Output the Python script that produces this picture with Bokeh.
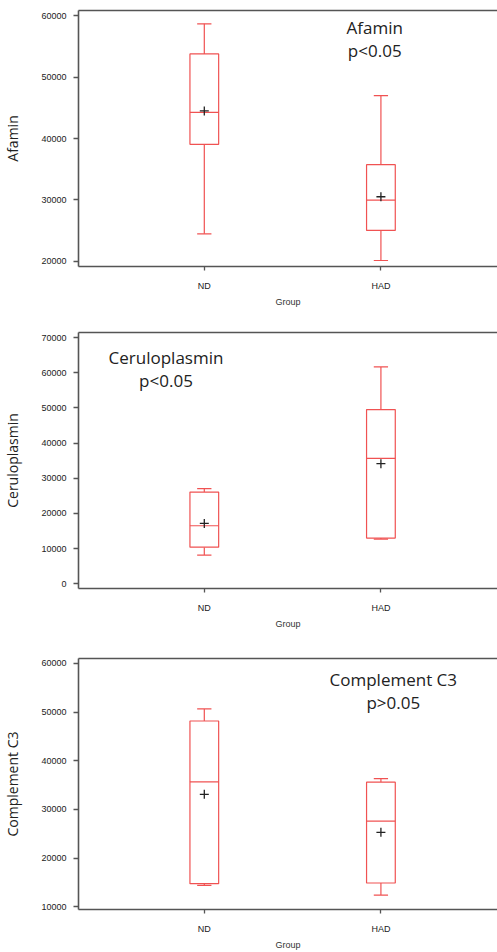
from bokeh.plotting import figure
from bokeh.layouts import column
from bokeh.models import FixedTicker, LinearAxis, Label, ColumnDataSource, Range1d
from bokeh.embed import file_html
from bokeh.resources import INLINE

groups = ["ND", "HAD"]
xpos = [1, 2]

# Afamin
afamin_low = [24500, 20160]
afamin_q1 = [39050, 25050]
afamin_med = [44260, 29990]
afamin_q3 = [53760, 35740]
afamin_high = [58640, 46970]
afamin_mean = [44480, 30530]

# Ceruloplasmin
cerul_low = [8160, 12710]
cerul_q1 = [10430, 13000]
cerul_med = [16500, 35660]
cerul_q3 = [26080, 49510]
cerul_high = [27030, 61650]
cerul_mean = [17170, 34150]

# Complement C3
c3_low = [14435, 12420]
c3_q1 = [14770, 14900]
c3_med = [35670, 27610]
c3_q3 = [48170, 35600]
c3_high = [50660, 36340]
c3_mean = [33120, 25320]

afamin_ticks = [20000, 30000, 40000, 50000, 60000]
cerul_ticks = [0, 10000, 20000, 30000, 40000, 50000, 60000, 70000]
c3_ticks = [10000, 20000, 30000, 40000, 50000, 60000]

BOX = "#f05252"
FRAME = "#555555"
ANN_FONT = "Open Sans"
TICK_FONT = "Liberation Sans"
FRAME_H = 256


def make_panel(name, low, q1, med, q3, high, mean, ticks, yr, title_lines,
               title_x, title_ys, top_border, bottom_border):
    height = top_border + FRAME_H + bottom_border
    p = figure(width=497, height=height, output_backend="svg",
               toolbar_location=None, x_range=Range1d(0.2877, 2.6601),
               y_range=Range1d(*yr), min_border_left=74, min_border_right=0,
               min_border_top=top_border, min_border_bottom=bottom_border,
               x_axis_location=None, y_axis_location=None)
    p.outline_line_color = None
    p.xgrid.visible = False
    p.ygrid.visible = False
    p.background_fill_color = "white"

    src = ColumnDataSource(dict(x=xpos, low=low, q1=q1, med=med, q3=q3,
                                high=high, mean=mean,
                                xl=[v - 0.0813 for v in xpos],
                                xr=[v + 0.0813 for v in xpos],
                                cl=[v - 0.0404 for v in xpos],
                                cr=[v + 0.0404 for v in xpos]))
    # whiskers
    p.segment(x0="x", y0="q3", x1="x", y1="high", source=src, line_color=BOX, line_width=1.2)
    p.segment(x0="x", y0="q1", x1="x", y1="low", source=src, line_color=BOX, line_width=1.2)
    # caps
    p.segment(x0="cl", y0="high", x1="cr", y1="high", source=src, line_color=BOX, line_width=1.2)
    p.segment(x0="cl", y0="low", x1="cr", y1="low", source=src, line_color=BOX, line_width=1.2)
    # boxes
    p.quad(left="xl", right="xr", bottom="q1", top="q3", source=src,
           fill_color="white", line_color=BOX, line_width=1.2)
    # medians
    p.segment(x0="xl", y0="med", x1="xr", y1="med", source=src, line_color=BOX, line_width=1.2)
    # means
    p.scatter(x="x", y="mean", source=src, marker="cross", size=9,
              line_color="#222222", line_width=1.3)

    yaxis = LinearAxis(ticker=FixedTicker(ticks=ticks), axis_label=name)
    yaxis.axis_line_color = FRAME
    yaxis.axis_line_width = 1.6
    yaxis.major_tick_line_color = FRAME
    yaxis.major_tick_line_width = 1.3
    yaxis.major_tick_out = 5
    yaxis.major_tick_in = 0
    yaxis.minor_tick_line_color = None
    yaxis.major_label_standoff = 7
    yaxis.major_label_text_font = TICK_FONT
    yaxis.major_label_text_font_size = "9px"
    yaxis.major_label_text_color = "#222222"
    yaxis.major_label_orientation = "horizontal"
    yaxis.axis_label_text_font = ANN_FONT
    yaxis.axis_label_text_font_size = "14px"
    yaxis.axis_label_text_font_style = "normal"
    yaxis.axis_label_text_color = "#222222"
    yaxis.axis_label_standoff = 16
    p.add_layout(yaxis, "left")

    xaxis = LinearAxis(ticker=FixedTicker(ticks=xpos), axis_label="Group")
    xaxis.major_label_overrides = {1: groups[0], 2: groups[1]}
    xaxis.axis_line_color = FRAME
    xaxis.axis_line_width = 1.6
    xaxis.major_tick_line_color = FRAME
    xaxis.major_tick_line_width = 1.3
    xaxis.major_tick_out = 4
    xaxis.major_tick_in = 0
    xaxis.minor_tick_line_color = None
    xaxis.major_label_standoff = 10
    xaxis.major_label_text_font = TICK_FONT
    xaxis.major_label_text_font_size = "9px"
    xaxis.major_label_text_color = "#222222"
    xaxis.axis_label_text_font = TICK_FONT
    xaxis.axis_label_text_font_size = "9px"
    xaxis.axis_label_text_font_style = "normal"
    xaxis.axis_label_text_color = "#333333"
    xaxis.axis_label_standoff = 3
    p.add_layout(xaxis, "below")

    top = LinearAxis(ticker=FixedTicker(ticks=[]))
    top.axis_line_color = FRAME
    top.axis_line_width = 1.6
    top.major_tick_line_color = None
    top.minor_tick_line_color = None
    top.major_tick_out = 0
    top.major_tick_in = 0
    p.add_layout(top, "above")

    for txt, ty in zip(title_lines, title_ys):
        p.add_layout(Label(x=title_x, y=ty, text=txt, text_align="center",
                           text_baseline="middle", text_font=ANN_FONT,
                           text_font_size="17px", text_color="#222222"))
    return p


p1 = make_panel("Afamin", afamin_low, afamin_q1, afamin_med, afamin_q3,
                afamin_high, afamin_mean, afamin_ticks, (19186, 60814),
                ["Afamin", "p<0.05"], 1.965, [57990, 54300], 10, 54)
p2 = make_panel("Ceruloplasmin", cerul_low, cerul_q1, cerul_med, cerul_q3,
                cerul_high, cerul_mean, cerul_ticks, (-1328, 71423),
                ["Ceruloplasmin", "p<0.05"], 0.783, [64310, 57860], 12, 57)
p3 = make_panel("Complement C3", c3_low, c3_q1, c3_med, c3_q3,
                c3_high, c3_mean, c3_ticks, (9462, 61008),
                ["Complement C3", "p>0.05"], 2.07, [56640, 52070], 13, 38)

layout = column(p1, p2, p3, spacing=0)
open("out.html", "w").write(file_html(layout, INLINE))
